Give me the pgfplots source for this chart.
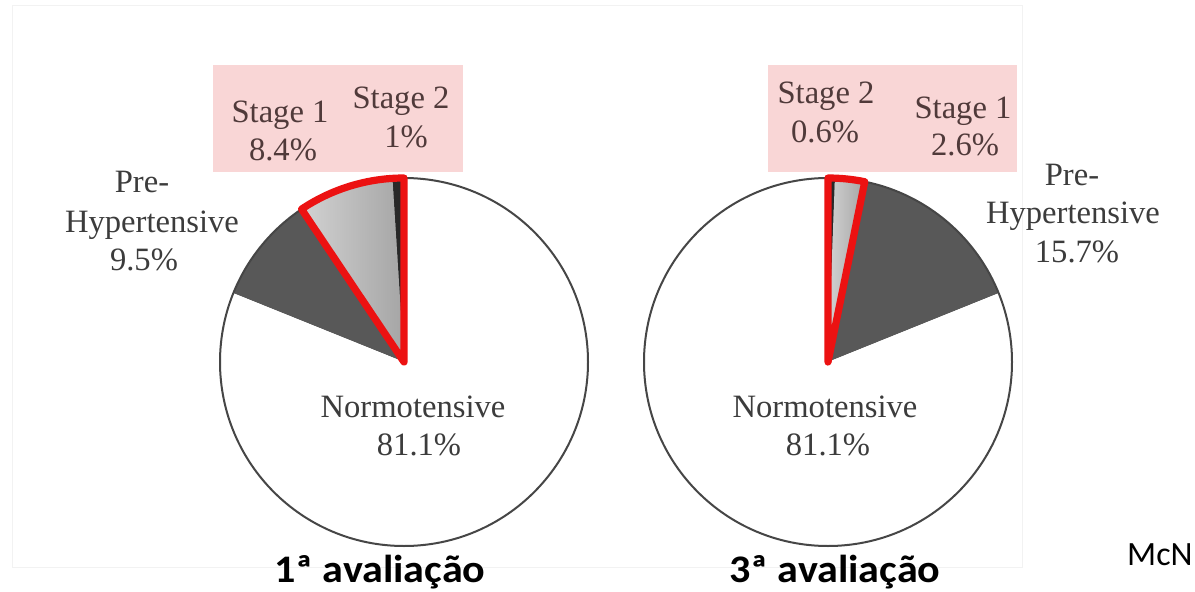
\documentclass[border=0pt]{standalone}
\usepackage{pgfplots}
\pgfplotsset{compat=1.18}
\usepackage{graphicx}
\usepackage{fontspec}
\setmainfont{Liberation Serif}
\newfontfamily\calibri{Carlito}

\definecolor{pinkbox}{RGB}{249,214,214}
\definecolor{labtext}{RGB}{60,60,60}
\definecolor{boxtext}{RGB}{80,58,58}
\definecolor{outline}{RGB}{70,70,70}
\definecolor{hilite}{RGB}{236,18,18}

\tikzset{
  stageII/.style={fill={rgb,255:red,40;green,40;blue,40}},
  stageI/.style={left color={rgb,255:red,210;green,210;blue,210}, right color={rgb,255:red,165;green,165;blue,165}},
  prehyp/.style={fill={rgb,255:red,88;green,88;blue,88}},
  normo/.style={fill=white},
  lab/.style={font=\fontsize{16.3}{18}\selectfont, text=labtext, anchor=base, inner sep=0pt},
  boxlab/.style={lab, text=boxtext},
  title/.style={anchor=base, inner sep=0pt, font=\calibri\bfseries\fontsize{19.5}{24}\selectfont},
}

% radius of both pies (184 axis units at 0.5pt per unit)
\def\pieR{92pt}

% \piechart{cx}{cy}{direction: 1 = counter-clockwise, -1 = clockwise}{pct/style list}
\newcommand\piechart[4]{%
  \gdef\cumul{0}%
  \foreach \p/\c in {#4} {%
    \pgfmathsetmacro\a{90+#3*\cumul*3.6}%
    \pgfmathsetmacro\b{90+#3*(\cumul+\p)*3.6}%
    \edef\tmp{\noexpand\fill[\c] (axis cs:#1,#2) -- ++(\a:\noexpand\pieR)
      arc[start angle=\a, end angle=\b, radius=\noexpand\pieR] -- cycle;}%
    \tmp
    \pgfmathsetmacro\newc{\cumul+\p}%
    \global\let\cumul\newc
  }%
  \draw[outline, line width=1pt] (axis cs:#1,#2) circle[radius=\pieR];
}

% red outline around the hypertensive share (Stage 1 + Stage 2)
\newcommand\redwedge[4]{%
  \pgfmathsetmacro\b{90+#3*(#4)*3.6}%
  \edef\tmp{\noexpand\draw[hilite, line width=3.6pt, line join=round]
    (axis cs:#1,#2) -- ++(90:\noexpand\pieR)
    arc[start angle=90, end angle=\b, radius=\noexpand\pieR] -- cycle;}%
  \tmp
}

\begin{document}
\begin{tikzpicture}
\begin{axis}[
  at={(0,0)}, anchor=south west,
  x=0.5pt, y=0.5pt,
  xmin=0, xmax=1195, ymin=0, ymax=591,
  scale only axis, hide axis, clip=false,
]
% faint slide frame
\draw[black!5, line width=0.5pt] (axis cs:12,586) rectangle (axis cs:1022,24);

% label boxes
\fill[pinkbox] (axis cs:213,526) rectangle (axis cs:463,419);
\fill[pinkbox] (axis cs:768,526) rectangle (axis cs:1017,419);

% 1st assessment: Stage 2, Stage 1, Pre-hypertensive, Normotensive
\piechart{404}{229}{1}{1.0/stageII, 8.4/stageI, 9.5/prehyp, 81.1/normo}
\redwedge{404}{229}{1}{1.0+8.4}

% 3rd assessment
\piechart{828}{229}{-1}{0.6/stageII, 2.6/stageI, 15.7/prehyp, 81.1/normo}
\redwedge{828}{229}{-1}{0.6+2.6}

% labels, first pie
\node[boxlab] at (axis cs:280,469) {Stage 1};
\node[boxlab] at (axis cs:283,431) {8.4\%};
\node[boxlab] at (axis cs:401,483) {Stage 2};
\node[boxlab] at (axis cs:406,444) {1\%};
\node[lab] at (axis cs:142,399) {Pre-};
\node[lab] at (axis cs:152,359) {Hypertensive};
\node[lab] at (axis cs:144,321) {9.5\%};
\node[lab] at (axis cs:413,174) {Normotensive};
\node[lab] at (axis cs:419,136) {81.1\%};

% labels, second pie
\node[boxlab] at (axis cs:826,488) {Stage 2};
\node[boxlab] at (axis cs:825,449) {0.6\%};
\node[boxlab] at (axis cs:963,473) {Stage 1};
\node[boxlab] at (axis cs:965,436) {2.6\%};
\node[lab] at (axis cs:1072,406) {Pre-};
\node[lab] at (axis cs:1073,368) {Hypertensive};
\node[lab] at (axis cs:1077,329) {15.7\%};
\node[lab] at (axis cs:825,174) {Normotensive};
\node[lab] at (axis cs:828,136) {81.1\%};

% titles
\node[title] at (axis cs:380,9) {\scalebox{1.08}[1]{1ª avaliação}};
\node[title] at (axis cs:835,9) {\scalebox{1.08}[1]{3ª avaliação}};
\node[anchor=base east, inner sep=0pt, font=\calibri\fontsize{17}{20}\selectfont]
  at (axis cs:1193,26) {McN};
\end{axis}
\pgfresetboundingbox
\path[use as bounding box] (0,0) rectangle (597.5pt,295.5pt);
\end{tikzpicture}
\end{document}
